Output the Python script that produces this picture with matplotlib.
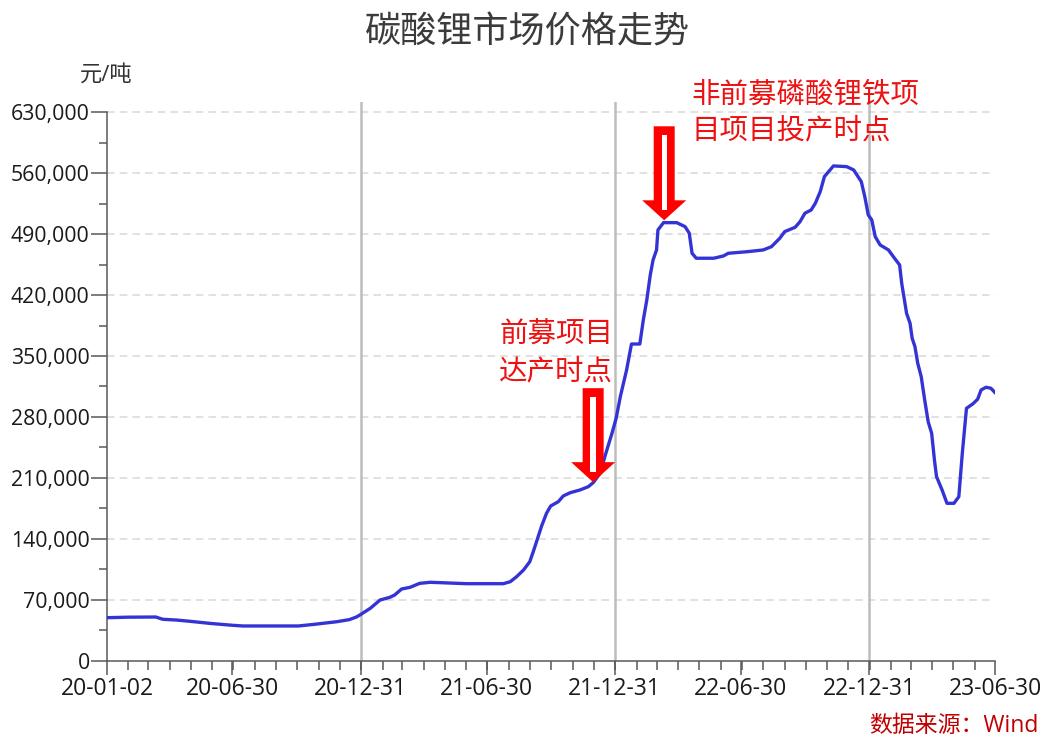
import matplotlib
matplotlib.use('Agg')
import matplotlib.pyplot as plt
import matplotlib.dates as mdates
import matplotlib.ticker as mticker
from matplotlib.patches import Polygon, Rectangle
from matplotlib.transforms import ScaledTranslation
import pandas as pd

plt.rcParams['font.family'] = ['Open Sans', 'Noto Sans CJK SC', 'DejaVu Sans']

# lithium carbonate price (yuan / ton)
dates = [
    '2020-01-02', '2020-02-01', '2020-03-12', '2020-03-22', '2020-04-11',
    '2020-05-01', '2020-05-31', '2020-06-30', '2020-07-15', '2020-10-03',
    '2020-10-28', '2020-11-27', '2020-12-15', '2020-12-25', '2020-12-30',
    '2021-01-14', '2021-01-28', '2021-02-11', '2021-02-18', '2021-02-28',
    '2021-03-12', '2021-03-26', '2021-04-10', '2021-04-24', '2021-06-01',
    '2021-07-24', '2021-08-03', '2021-08-12', '2021-08-22', '2021-08-31',
    '2021-09-05', '2021-09-12', '2021-09-17', '2021-09-24', '2021-09-30',
    '2021-10-11', '2021-10-18', '2021-10-28', '2021-11-11', '2021-11-23',
    '2021-11-30', '2021-12-10', '2021-12-17', '2021-12-27', '2022-01-02',
    '2022-01-08', '2022-01-17', '2022-01-24', '2022-02-05', '2022-02-10',
    '2022-02-15', '2022-02-20', '2022-02-24', '2022-03-01', '2022-03-03',
    '2022-03-11', '2022-03-30', '2022-04-11', '2022-04-17', '2022-04-21',
    '2022-04-27', '2022-05-22', '2022-06-05', '2022-06-12', '2022-07-09',
    '2022-08-01', '2022-08-13', '2022-08-25', '2022-09-01', '2022-09-16',
    '2022-09-23', '2022-09-30', '2022-10-09', '2022-10-15', '2022-10-22',
    '2022-10-28', '2022-11-10', '2022-11-29', '2022-12-09', '2022-12-20',
    '2022-12-25', '2022-12-30', '2023-01-04', '2023-01-09', '2023-01-16',
    '2023-01-28', '2023-02-04', '2023-02-13', '2023-02-16', '2023-02-23',
    '2023-02-28', '2023-03-03', '2023-03-07', '2023-03-11', '2023-03-16',
    '2023-03-21', '2023-03-26', '2023-03-31', '2023-04-04', '2023-04-07',
    '2023-04-15', '2023-04-22', '2023-05-02', '2023-05-09', '2023-05-14',
    '2023-05-20', '2023-05-29', '2023-06-05', '2023-06-10', '2023-06-17',
    '2023-06-24', '2023-06-30',
]
prices = [
    49200, 49800, 50000, 47400, 46500,
    45000, 42500, 40500, 39700, 39700,
    41800, 44600, 47000, 50000, 52300,
    60000, 69500, 72600, 75300, 82200,
    84100, 88700, 89900, 89500, 88300,
    88300, 90600, 96300, 104000, 113600,
    125100, 142300, 154600, 169200, 177600,
    182600, 189100, 192900, 196000, 199800,
    204400, 215200, 235000, 261200, 278400,
    303300, 334000, 363800, 363800, 391400,
    414400, 443200, 460400, 471900, 494900,
    503300, 503300, 498700, 491100, 468100,
    462400, 462400, 465000, 468100, 469900,
    471900, 475700, 485400, 493000, 498000,
    504400, 514100, 517900, 525600, 538900,
    556200, 568500, 567700, 563900, 550400,
    533200, 512100, 506400, 487200, 477700,
    471900, 464200, 454700, 433600, 399100,
    387600, 370400, 360800, 341700, 326300,
    299500, 274500, 261200, 230500, 211300,
    196000, 180700, 180700, 188300, 238200,
    289900, 294900, 300300, 311000, 314100,
    313000, 307900,
]

major_dates = ['2020-01-02', '2020-06-30', '2020-12-31', '2021-06-30',
               '2021-12-31', '2022-06-30', '2022-12-31', '2023-06-30']
major_labels = ['20-01-02', '20-06-30', '20-12-31', '21-06-30',
                '21-12-31', '22-06-30', '22-12-31', '23-06-30']
year_end_dates = ['2020-12-31', '2021-12-31', '2022-12-31']

# arrow tips (date, price) and the notes above them
arrow_dates = ['2021-11-30', '2022-03-12']
arrow_prices = [205000, 506000]
note1 = ['前募项目', '达产时点']
note2 = ['非前募磷酸锂铁项', '目项目投产时点']

x = pd.to_datetime(dates)
red = '#ff0000'
grey_axis = '#595959'

fig = plt.figure(figsize=(10.44, 7.38), dpi=100)
ax = fig.add_axes([0.1025, 0.105, 0.8506, 0.7568])

ax.plot(x, prices, color='#3434d6', lw=2.4, zorder=3, solid_joinstyle='round')

ax.set_xlim(pd.Timestamp(major_dates[0]), pd.Timestamp(major_dates[-1]))
ax.set_ylim(0, 642000)

# grid and year-end markers
for v in range(70000, 630001, 70000):
    ax.axhline(v, color='#d9d9d9', lw=1.1, ls=(0, (5, 3.3)), zorder=0)
for d in year_end_dates:
    ax.axvline(pd.Timestamp(d), color='#bdbdbd', lw=1.8, zorder=1)

# axes look
for s in ['top', 'right']:
    ax.spines[s].set_visible(False)
for s in ['left', 'bottom']:
    ax.spines[s].set_color(grey_axis)
    ax.spines[s].set_linewidth(1.1)
ax.spines['left'].set_bounds(0, 630000)

ax.yaxis.set_major_locator(mticker.MultipleLocator(70000))
ax.yaxis.set_minor_locator(mticker.MultipleLocator(35000))
ax.yaxis.set_major_formatter(mticker.FuncFormatter(lambda v, p: f'{int(v):,}'))
ax.set_yticks(range(0, 630001, 70000))

ax.set_xticks(pd.to_datetime(major_dates))
ax.set_xticklabels(major_labels)
ax.xaxis.set_minor_locator(mdates.MonthLocator(bymonthday=1))

ax.tick_params(axis='y', which='major', length=11.5, width=1.1, color=grey_axis,
               labelsize=15.3, labelcolor='#1a1a1a', pad=1)
ax.tick_params(axis='y', which='minor', length=5.8, width=1.1, color=grey_axis)
ax.tick_params(axis='x', which='major', length=10, width=1.1, color=grey_axis,
               labelsize=16.5, labelcolor='#1a1a1a', pad=2)
ax.tick_params(axis='x', which='minor', length=6.2, width=1.1, color=grey_axis)

# block arrows, drawn in pixels (1/100 inch) around the tip
shape = [(0, 0), (-0.22, 0.20), (-0.105, 0.20), (-0.105, 0.94),
         (0.105, 0.94), (0.105, 0.20), (0.22, 0.20)]
for d, p in zip(arrow_dates, arrow_prices):
    tip = ScaledTranslation(mdates.date2num(pd.Timestamp(d)), p, ax.transData)
    trans = fig.dpi_scale_trans + tip
    ax.add_patch(Polygon(shape, closed=True, facecolor=red, edgecolor='none',
                         transform=trans, zorder=5, clip_on=False))
    ax.add_patch(Rectangle((-0.027, 0.10), 0.054, 0.75, facecolor='white',
                           edgecolor='none', transform=trans, zorder=6, clip_on=False))

note_color = '#ee1111'
fig.text(0.478, 0.5447, note1[0], fontsize=20.5, color=note_color, ha='left', va='center')
fig.text(0.478, 0.4959, note1[1], fontsize=20.5, color=note_color, ha='left', va='center')
fig.text(0.662, 0.8706, note2[0], fontsize=20.5, color=note_color, ha='left', va='center')
fig.text(0.662, 0.8225, note2[1], fontsize=20.5, color=note_color, ha='left', va='center')

fig.text(0.5053, 0.954, '碳酸锂市场价格走势', fontsize=26, color='#3b3b3b',
         ha='center', va='center')
fig.text(0.1015, 0.8984, '元/吨', fontsize=16, color='#333333', ha='center', va='center')
fig.text(0.9943, 0.0163, '数据来源：Wind', fontsize=16.5, color='#c00000',
         ha='right', va='center')

fig.savefig('out.png', dpi=100)
